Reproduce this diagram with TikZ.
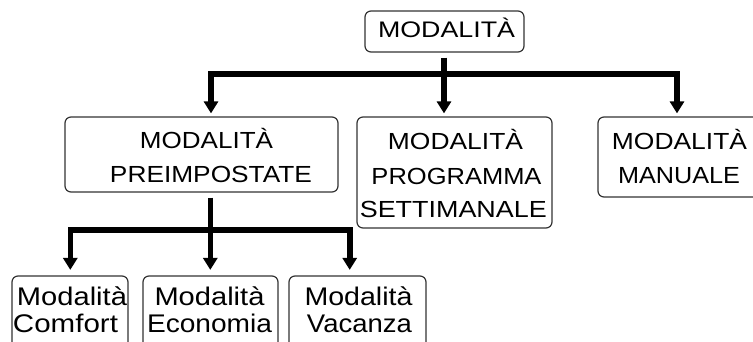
\documentclass[tikz,border=0pt]{standalone}
\usepackage{fontspec}
\usepackage{graphicx}
\setmainfont{Liberation Sans}
\usetikzlibrary{arrows.meta}
\newcommand\fitw[2]{\resizebox{#1pt}{\height}{#2}}
\begin{document}
\begin{tikzpicture}[x=1pt,y=-1pt,
  box/.style={draw=black!80,line width=1.2pt,rounded corners=6pt,inner sep=0pt},
  big/.style={font=\fontsize{23.3}{28}\selectfont,text=black,anchor=base,inner sep=0pt},
  small/.style={font=\fontsize{25.5}{30}\selectfont,text=black,anchor=base,inner sep=0pt},
  link/.style={line width=5.6pt,line join=miter,line cap=butt},
  arr/.style={link,-{Triangle[width=14pt,length=12pt]}}]
\useasboundingbox (0,0) rectangle (753,342);
\clip (0,0) rectangle (753,342);
% boxes
\node[box,minimum width=159pt,minimum height=41pt] (top) at (444.5,31.5) {};
\node[box,minimum width=273pt,minimum height=75pt] (pre) at (201.5,154.5) {};
\node[box,minimum width=195pt,minimum height=111pt] (prog) at (454.5,172.5) {};
\node[box,minimum width=164pt,minimum height=80pt] (man) at (680,157) {};
\node[box,minimum width=116pt,minimum height=100pt] (com) at (70,326) {};
\node[box,minimum width=135pt,minimum height=100pt] (eco) at (210.5,326) {};
\node[box,minimum width=137pt,minimum height=100pt] (vac) at (357.5,326) {};
% texts
\node[big,font=\fontsize{22.5}{28}\selectfont] (topT) at (446.5,37.3) {\fitw{137}{MODALITÀ}};
\node[big] (preA) at (206.5,148.3) {\fitw{133}{MODALITÀ}};
\node[big] (preB) at (211,182.7) {\fitw{202}{PREIMPOSTATE}};
\node[big] (progA) at (455.5,150) {\fitw{135}{MODALITÀ}};
\node[big] (progB) at (456.5,185) {\fitw{170}{PROGRAMMA}};
\node[big] (progC) at (453.3,218) {\fitw{187}{SETTIMANALE}};
\node[big] (manA) at (679.5,150) {\fitw{135}{MODALITÀ}};
\node[big] (manB) at (679,183) {\fitw{122}{MANUALE}};
\node[small] (comA) at (72,305) {\fitw{110}{Modalità}};
\node[small] (comB) at (65.5,332) {\fitw{105}{Comfort}};
\node[small] (ecoA) at (209.5,305) {\fitw{110}{Modalità}};
\node[small] (ecoB) at (209.5,332) {\fitw{125}{Economia}};
\node[small] (vacA) at (358.5,305) {\fitw{108}{Modalità}};
\node[small] (vacB) at (359.5,332) {\fitw{105}{Vacanza}};
% junctions
\coordinate (jt) at (444,74);
\coordinate (j1) at (211,74);
\coordinate (j3) at (677,74);
\coordinate (jb) at (210.3,230);
\coordinate (k1) at (70.3,230);
\coordinate (k3) at (349.7,230);
% connectors, first level
\draw[arr,shorten >=3pt] ([yshift=-5pt]top.south -| jt) -- (jt |- prog.north);
\draw[arr,shorten >=3pt] (jt) -- (j1) -- (j1 |- pre.north);
\draw[arr,shorten >=3pt] (jt) -- (j3) -- (j3 |- man.north);
% connectors, second level
\draw[arr,shorten >=5.5pt] ([yshift=-5pt]pre.south -| jb) -- (jb |- eco.north);
\draw[arr,shorten >=5.5pt] (jb) -- (k1) -- (k1 |- com.north);
\draw[arr,shorten >=5.5pt] (jb) -- (k3) -- (k3 |- vac.north);
\end{tikzpicture}
\end{document}
